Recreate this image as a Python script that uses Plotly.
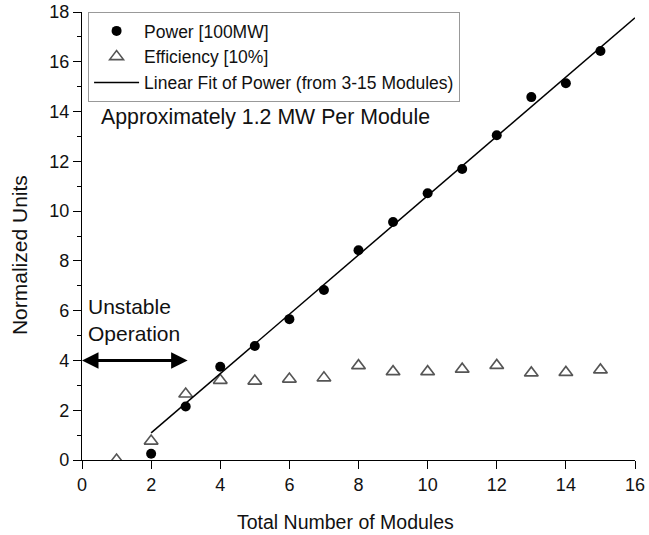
import numpy as np
import plotly.graph_objects as go

power_x = [2, 3, 4, 5, 6, 7, 8, 9, 10, 11, 12, 13, 14, 15]
power_y = [0.25, 2.15, 3.75, 4.58, 5.66, 6.83, 8.43, 9.56, 10.72, 11.69, 13.05, 14.58, 15.14, 16.43]
eff_x = [1, 2, 3, 4, 5, 6, 7, 8, 9, 10, 11, 12, 13, 14, 15]
eff_y = [0.0, 0.76, 2.65, 3.2, 3.17, 3.25, 3.3, 3.79, 3.55, 3.55, 3.65, 3.8, 3.5, 3.52, 3.62]
fit_from, fit_to = 3, 15
fit_line_x = [2, 16]
x_title = "Total Number of Modules"
y_title = "Normalized Units"

px_ = np.array(power_x); py_ = np.array(power_y)
mask = (px_ >= fit_from) & (px_ <= fit_to)
slope, intercept = np.polyfit(px_[mask], py_[mask], 1)
fx = np.array(fit_line_x, dtype=float)
fy = slope * fx + intercept

font = "Liberation Sans, Arial, sans-serif"
fig = go.Figure()
fig.add_trace(go.Scatter(x=power_x, y=power_y, mode="markers", name="Power [100MW]",
                         marker=dict(symbol="circle", size=10, color="black")))
fig.add_trace(go.Scatter(x=eff_x, y=eff_y, mode="markers", name="Efficiency [10%]",
                         marker=dict(symbol="triangle-up-open", size=12, color="#555555",
                                     line=dict(width=1.6, color="#555555"))))
fig.add_trace(go.Scatter(x=fx, y=fy, mode="lines", name="Linear Fit of Power (from 3-15 Modules)",
                         line=dict(color="black", width=1.5)))

fig.add_annotation(x=0, y=4, ax=3.1, ay=4, xref="x", yref="y", axref="x", ayref="y",
                   text="", showarrow=True, arrowhead=2, startarrowhead=2, arrowside="end+start",
                   arrowsize=1.1, startarrowsize=1.1, arrowwidth=3, arrowcolor="black")
fig.add_annotation(x=0.12, y=4.55, xref="x", yref="y", text="Unstable<br>Operation",
                   showarrow=False, xanchor="left", yanchor="bottom", align="left",
                   font=dict(size=21, color="#111111", family=font))
fig.add_annotation(x=0.5, y=13.8, xref="x", yref="y", text="Approximately 1.2 MW Per Module",
                   showarrow=False, xanchor="left", yanchor="middle",
                   font=dict(size=21.3, color="#111111", family=font))
fig.add_annotation(x=0.4756, y=-0.138, xref="paper", yref="paper", text=x_title,
                   showarrow=False, xanchor="center", yanchor="middle",
                   font=dict(size=19.5, color="#111111", family=font))
fig.add_annotation(x=-0.112, y=0.4576, xref="paper", yref="paper", text=y_title,
                   showarrow=False, xanchor="center", yanchor="middle", textangle=-90,
                   font=dict(size=21, color="#111111", family=font))

fig.update_layout(
    width=649, height=535,
    margin=dict(l=82, r=14, t=12, b=75),
    plot_bgcolor="white", paper_bgcolor="white",
    font=dict(family=font, color="#111111", size=18),
    showlegend=True,
    legend=dict(x=0.011, y=1.0, xanchor="left", yanchor="top", bgcolor="white",
                bordercolor="#999999", borderwidth=1, font=dict(size=17.5, family=font),
                tracegroupgap=0, itemwidth=45),
    xaxis=dict(range=[0, 16], dtick=2, tick0=0, showgrid=False, zeroline=False,
               automargin=False,
               showline=True, linecolor="black", linewidth=1.2, ticks="outside",
               ticklen=8, tickcolor="black", tickwidth=1.2),
    yaxis=dict(range=[0, 18], dtick=2, tick0=0, showgrid=False, zeroline=False,
               automargin=False,
               showline=True, linecolor="black", linewidth=1.2, ticks="outside",
               ticklen=8, tickcolor="black", tickwidth=1.2,
               minor=dict(dtick=1, ticks="outside", ticklen=4, tickcolor="black", showgrid=False)),
)
fig.write_html("out.html")
